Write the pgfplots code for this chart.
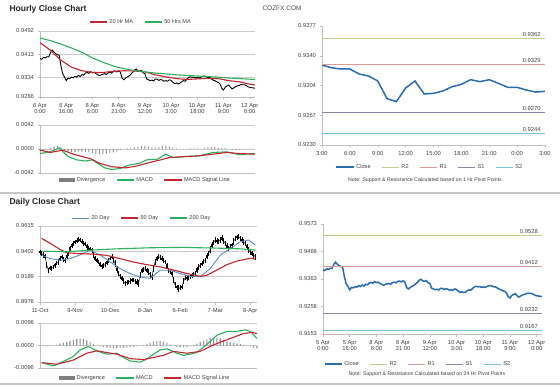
\documentclass[border=0pt]{standalone}
\usepackage{fontspec}
\setmainfont{Liberation Sans}
\usepackage{pgfplots}
\usepackage{pgfplotstable}
\pgfplotsset{compat=1.18}
\definecolor{magreen}{HTML}{2DB05E}
\definecolor{mared}{HTML}{C0282D}
\definecolor{mablue}{HTML}{5B8FC7}
\definecolor{divgray}{HTML}{7F7F7F}
\definecolor{closeblue}{HTML}{2A6CB0}
\definecolor{rtwo}{HTML}{C9C98E}
\definecolor{rone}{HTML}{DB9A98}
\definecolor{sone}{HTML}{8A86A8}
\definecolor{stwo}{HTML}{7CC4DC}

\pgfplotstableread{
h v
0 0.9398
1 0.9395
2 0.9402
3 0.9400
4 0.9404
5 0.9403
6 0.9418
7 0.9427
8 0.9420
9 0.9414
10 0.9411
11 0.9409
12 0.9372
13 0.9345
14 0.9335
15 0.9322
16 0.9331
17 0.9329
18 0.9334
19 0.9332
20 0.9337
21 0.9334
22 0.9340
23 0.9336
24 0.9343
25 0.9341
26 0.9348
27 0.9350
28 0.9347
29 0.9353
30 0.9349
31 0.9351
32 0.9346
33 0.9343
34 0.9339
35 0.9342
36 0.9344
37 0.9346
38 0.9343
39 0.9349
40 0.9351
41 0.9348
42 0.9354
43 0.9355
44 0.9352
45 0.9356
46 0.9351
47 0.9330
48 0.9325
49 0.9331
50 0.9335
51 0.9338
52 0.9344
53 0.9350
54 0.9358
55 0.9362
56 0.9356
57 0.9354
58 0.9357
59 0.9349
60 0.9346
61 0.9328
62 0.9325
63 0.9322
64 0.9324
65 0.9321
66 0.9327
67 0.9327
68 0.9323
69 0.9326
70 0.9324
71 0.9320
72 0.9322
73 0.9320
74 0.9325
75 0.9323
76 0.9316
77 0.9312
78 0.9314
79 0.9311
80 0.9313
81 0.9318
82 0.9322
83 0.9320
84 0.9327
85 0.9333
86 0.9335
87 0.9333
88 0.9334
89 0.9331
90 0.9333
91 0.9331
92 0.9334
93 0.9337
94 0.9338
95 0.9336
96 0.9333
97 0.9333
98 0.9328
99 0.9324
100 0.9322
101 0.9318
102 0.9316
103 0.9310
104 0.9296
105 0.9290
106 0.9300
107 0.9304
108 0.9307
109 0.9299
110 0.9294
111 0.9298
112 0.9302
113 0.9304
114 0.9306
115 0.9309
116 0.9308
117 0.9308
118 0.9305
119 0.9301
120 0.9299
121 0.9298
122 0.9297
123 0.9296
}\hourly

\pgfplotstableread{
d c e b
0 0.9395 0.0020 0.0008
1 0.9384 0.0018 0.0010
2 0.9372 0.0022 0.0009
3 0.9356 0.0020 0.0012
4 0.9290 0.0026 0.0015
5 0.9243 0.0022 0.0010
6 0.9262 0.0018 0.0008
7 0.9257 0.0020 0.0009
8 0.9268 0.0016 0.0007
9 0.9285 0.0020 0.0010
10 0.9301 0.0018 0.0009
11 0.9313 0.0022 0.0011
12 0.9340 0.0020 0.0010
13 0.9356 0.0018 0.0008
14 0.9335 0.0022 0.0011
15 0.9327 0.0020 0.0009
16 0.9360 0.0024 0.0013
17 0.9384 0.0020 0.0011
18 0.9425 0.0026 0.0014
19 0.9454 0.0022 0.0012
20 0.9470 0.0020 0.0009
21 0.9482 0.0018 0.0008
22 0.9490 0.0022 0.0010
23 0.9502 0.0020 0.0009
24 0.9495 0.0018 0.0008
25 0.9482 0.0022 0.0011
26 0.9470 0.0020 0.0009
27 0.9463 0.0018 0.0010
28 0.9440 0.0024 0.0012
29 0.9426 0.0020 0.0009
30 0.9420 0.0018 0.0008
31 0.9412 0.0020 0.0010
32 0.9370 0.0026 0.0016
33 0.9341 0.0022 0.0012
34 0.9325 0.0020 0.0009
35 0.9313 0.0018 0.0008
36 0.9290 0.0022 0.0011
37 0.9277 0.0020 0.0009
38 0.9282 0.0018 0.0008
39 0.9290 0.0020 0.0009
40 0.9310 0.0022 0.0011
41 0.9327 0.0020 0.0010
42 0.9345 0.0018 0.0009
43 0.9356 0.0022 0.0010
44 0.9330 0.0024 0.0013
45 0.9299 0.0026 0.0014
46 0.9250 0.0028 0.0016
47 0.9215 0.0022 0.0012
48 0.9190 0.0020 0.0010
49 0.9172 0.0022 0.0011
50 0.9150 0.0024 0.0012
51 0.9130 0.0020 0.0009
52 0.9140 0.0018 0.0008
53 0.9144 0.0020 0.0009
54 0.9152 0.0022 0.0010
55 0.9158 0.0018 0.0008
56 0.9160 0.0020 0.0009
57 0.9150 0.0022 0.0010
58 0.9142 0.0026 0.0012
59 0.9130 0.0030 0.0010
60 0.9200 0.0026 0.0016
61 0.9243 0.0022 0.0012
62 0.9250 0.0020 0.0009
63 0.9257 0.0018 0.0008
64 0.9240 0.0020 0.0010
65 0.9229 0.0022 0.0011
66 0.9205 0.0024 0.0012
67 0.9186 0.0022 0.0010
68 0.9260 0.0028 0.0017
69 0.9313 0.0024 0.0013
70 0.9340 0.0022 0.0011
71 0.9356 0.0020 0.0009
72 0.9350 0.0018 0.0008
73 0.9341 0.0020 0.0009
74 0.9325 0.0022 0.0010
75 0.9313 0.0020 0.0009
76 0.9280 0.0024 0.0014
77 0.9243 0.0022 0.0012
78 0.9230 0.0020 0.0009
79 0.9215 0.0022 0.0010
80 0.9160 0.0028 0.0016
81 0.9116 0.0024 0.0012
82 0.9100 0.0022 0.0010
83 0.9088 0.0030 0.0011
84 0.9095 0.0022 0.0009
85 0.9102 0.0020 0.0010
86 0.9150 0.0026 0.0015
87 0.9181 0.0022 0.0011
88 0.9175 0.0020 0.0009
89 0.9181 0.0018 0.0008
90 0.9192 0.0020 0.0009
91 0.9200 0.0022 0.0010
92 0.9210 0.0020 0.0009
93 0.9215 0.0018 0.0008
94 0.9245 0.0024 0.0013
95 0.9271 0.0022 0.0011
96 0.9285 0.0020 0.0009
97 0.9299 0.0018 0.0008
98 0.9315 0.0022 0.0010
99 0.9327 0.0020 0.0009
100 0.9360 0.0026 0.0014
101 0.9384 0.0022 0.0012
102 0.9420 0.0028 0.0016
103 0.9454 0.0024 0.0013
104 0.9478 0.0022 0.0011
105 0.9497 0.0026 0.0012
106 0.9488 0.0022 0.0010
107 0.9482 0.0020 0.0009
108 0.9500 0.0024 0.0012
109 0.9511 0.0026 0.0011
110 0.9490 0.0024 0.0012
111 0.9468 0.0022 0.0011
112 0.9445 0.0026 0.0013
113 0.9426 0.0024 0.0010
114 0.9440 0.0020 0.0009
115 0.9454 0.0022 0.0011
116 0.9485 0.0026 0.0014
117 0.9511 0.0022 0.0012
118 0.9520 0.0020 0.0009
119 0.9525 0.0022 0.0010
120 0.9510 0.0020 0.0009
121 0.9497 0.0022 0.0011
122 0.9480 0.0024 0.0012
123 0.9468 0.0022 0.0010
124 0.9440 0.0026 0.0013
125 0.9412 0.0024 0.0012
126 0.9395 0.0022 0.0010
127 0.9384 0.0020 0.0009
128 0.9370 0.0022 0.0010
129 0.9356 0.0024 0.0011
}\daily

\tikzset{pivlabel/.style={pos=0.94, above, font=\fontsize{5.8}{6.6}\selectfont, text=black!75, inner sep=1.5pt}}

\pgfplotsset{
  excel/.style={
    scale only axis,
    axis x line*=bottom, axis y line*=left,
    axis line style={gray!50, line width=0.6pt},
    every tick/.style={gray!50, line width=0.5pt},
    major tick length=2.5pt, tick align=outside,
    scaled y ticks=false, scaled x ticks=false,
    ticklabel style={font=\fontsize{5.8}{6.6}\selectfont, text=black!75},
    x tick label style={align=center},
    grid style={gray!40, line width=0.6pt},
    legend style={draw=none, fill=none, font=\fontsize{5.6}{6.5}\selectfont, text=black!75,
      legend columns=-1, /tikz/every even column/.append style={column sep=9pt},
      anchor=center, inner sep=0pt},
    legend cell align=left,
    clip=false,
  },
  divstyle/.style={ybar, bar width=1.1pt, bar shift=0pt, fill=divgray!85, draw=none,
    legend image code/.code={\fill[divgray] (0pt,-2pt) rectangle (16pt,2pt);}},
}

\begin{document}
\begin{tikzpicture}
\path[use as bounding box] (0pt,0pt) rectangle (560pt,386pt);
\fill[white] (0pt,0pt) rectangle (560pt,386pt);

% titles and separators
\node[anchor=base west, font=\bfseries\fontsize{8.5}{10}\selectfont, text=black!85] at (6pt,374pt) {Hourly Close Chart};
\node[anchor=base, font=\fontsize{6.5}{7.5}\selectfont, text=black!70] at (282pt,375pt) {COZFX.COM};
\draw[gray!45, line width=1.5pt] (0pt,193pt) -- (560pt,193pt);
\node[anchor=base west, font=\bfseries\fontsize{8.5}{10}\selectfont, text=black!85] at (6pt,181pt) {Daily Close Chart};
\draw[gray!45, line width=1.5pt] (0pt,2pt) -- (560pt,2pt);
\node[font=\fontsize{5.2}{6}\selectfont, text=black!75] at (425pt,206pt) {Note: Support \& Resistance Calculated based on 1 Hr Pivot Points};
\node[font=\fontsize{5.2}{6}\selectfont, text=black!75] at (427pt,12pt) {Note: Support \& Resistance Calculated based on 24 Hr Pivot Points};

% ---------------- Hourly price
\begin{axis}[excel, at={(40pt,289pt)}, anchor=south west, width=215pt, height=66pt,
  xmin=0, xmax=123, ymin=0.9266, ymax=0.9492,
  ytick={0.9266,0.9334,0.9413,0.9492}, yticklabels={0.9266,0.9334,0.9413,0.9492},
  ymajorgrids,
  xtick={0,15,...,120},
  xticklabels={{6 Apr\\0:00},{6 Apr\\16:00},{8 Apr\\6:00},{8 Apr\\21:00},{9 Apr\\12:00},{10 Apr\\3:00},{10 Apr\\18:00},{11 Apr\\9:00},{12 Apr\\0:00}},
  legend style={at={(0.47,1.136)}}]
\addplot[black, line width=0.9pt, forget plot] table[x=h,y=v] {\hourly};
\addplot[mared, line width=1.1pt] coordinates {(0,0.9452) (6,0.9426) (12,0.9392) (18,0.9368) (24,0.9356) (30,0.9350) (36,0.9350) (42,0.9354) (48,0.9356) (54,0.9355) (60,0.9352) (66,0.9342) (72,0.9335) (78,0.9329) (84,0.9326) (90,0.9328) (96,0.9330) (102,0.9329) (108,0.9322) (114,0.9318) (120,0.9310) (123,0.9307)};
\addplot[magreen, line width=1.1pt] coordinates {(0,0.9468) (6,0.9459) (12,0.9447) (18,0.9434) (24,0.9419) (30,0.9400) (36,0.9385) (42,0.9372) (48,0.9363) (54,0.9357) (60,0.9352) (66,0.9348) (72,0.9345) (78,0.9342) (84,0.9340) (90,0.9338) (96,0.9336) (102,0.9334) (108,0.9331) (114,0.9329) (120,0.9327) (123,0.9326)};
\legend{20 Hr MA, 50 Hrs MA}
\end{axis}

% ---------------- Hourly MACD
\begin{axis}[excel, at={(40pt,213pt)}, anchor=south west, width=215pt, height=48pt,
  xmin=0, xmax=123, ymin=-0.0042, ymax=0.0042,
  ytick={-0.0042,0,0.0042}, yticklabels={-0.0042,0.0000,0.0042},
  ymajorgrids, xtick=\empty,
  legend style={at={(0.49,-0.146)}}]
\addplot[divstyle] table[x=h, y=v] {
h v
0 -0.0003
2 -0.0003
4 0.0000
6 0.0002
8 0.0004
10 0.0005
12 0.0003
14 -0.0002
16 -0.0004
18 -0.0005
20 -0.0005
22 -0.0004
24 -0.0004
26 -0.0005
28 -0.0006
30 -0.0007
32 -0.0008
34 -0.0009
36 -0.0009
38 -0.0008
40 -0.0007
42 -0.0006
44 -0.0004
46 -0.0002
48 0.0000
50 0.0001
52 0.0002
54 0.0003
56 0.0004
58 0.0005
60 0.0005
62 0.0004
64 0.0003
66 0.0002
68 0.0003
70 0.0005
72 0.0006
74 0.0004
76 0.0002
78 0.0001
80 0.0000
82 0.0000
84 0.0000
86 0.0001
88 0.0001
90 0.0001
92 0.0000
94 0.0002
96 0.0003
98 0.0003
100 0.0003
102 0.0002
104 0.0001
106 0.0001
108 0.0000
110 -0.0001
112 -0.0001
114 -0.0001
116 0.0000
118 0.0000
120 0.0000
122 0.0000
};
\addplot[magreen, line width=1.1pt] table[x=h, y=v] {
h v
0 -0.0008
6 -0.0005
11 0.0002
16 -0.0013
21 -0.0019
26 -0.0021
30 -0.0019
33 -0.0025
37 -0.0033
41 -0.0036
46 -0.0034
51 -0.0028
57 -0.0025
61 -0.0019
67 -0.0018
72 -0.0009
76 -0.0015
84 -0.0013
91 -0.0012
99 -0.0006
107 -0.0005
114 -0.0010
123 -0.0008
};
\addplot[mared, line width=1.1pt] table[x=h, y=v] {
h v
0 -0.0002
6 -0.0006
13 -0.0002
20 -0.0010
29 -0.0017
34 -0.0025
41 -0.0031
49 -0.0033
55 -0.0030
61 -0.0025
69 -0.0019
74 -0.0015
84 -0.0013
91 -0.0012
99 -0.0009
107 -0.0006
114 -0.0008
123 -0.0009
};
\legend{Divergence, MACD, MACD Signal Line}
\end{axis}

% ---------------- Hourly pivot
\begin{axis}[excel, at={(322pt,241pt)}, anchor=south west, width=223pt, height=119pt,
  xmin=0, xmax=24, ymin=0.9230, ymax=0.9377,
  ytick={0.9230,0.9267,0.9304,0.9340,0.9377}, yticklabels={0.9230,0.9267,0.9304,0.9340,0.9377},
  xtick={0,3,...,24}, xticklabels={3:00,6:00,9:00,12:00,15:00,18:00,21:00,0:00,3:00},
  legend style={at={(0.484,-0.185)}}]
\addplot[closeblue, line width=1.5pt] coordinates {(0,0.93288) (1,0.93255) (2,0.93239) (3,0.93239) (4,0.93177) (5,0.93152) (6,0.93091) (7,0.92872) (8,0.92835) (9,0.93004) (10,0.93091) (11,0.92930) (12,0.92938) (13,0.92967) (14,0.93020) (15,0.93049) (16,0.93107) (17,0.93082) (18,0.93107) (19,0.93061) (20,0.93012) (21,0.93012) (22,0.92979) (23,0.92954) (24,0.92963)};
\addplot[rtwo, line width=0.8pt] coordinates {(0,0.9362) (24,0.9362)} node[pivlabel] {0.9362};
\addplot[rone, line width=0.8pt] coordinates {(0,0.9329) (24,0.9329)} node[pivlabel] {0.9329};
\addplot[sone, line width=0.8pt] coordinates {(0,0.9270) (24,0.9270)} node[pivlabel] {0.9270};
\addplot[stwo, line width=0.8pt] coordinates {(0,0.9244) (24,0.9244)} node[pivlabel] {0.9244};
\legend{Close, R2, R1, S1, S2}
\end{axis}

% ---------------- Daily price
\begin{axis}[excel, at={(40pt,84pt)}, anchor=south west, width=217pt, height=76pt,
  xmin=0, xmax=130, ymin=0.8976, ymax=0.9615,
  ytick={0.8976,0.9189,0.9402,0.9615}, yticklabels={0.8976,0.9189,0.9402,0.9615},
  ymajorgrids,
  xtick={0,21,...,126}, xticklabels={11-Oct,9-Nov,10-Dec,8-Jan,6-Feb,7-Mar,8-Apr},
  legend style={at={(0.47,1.105)}}]
\addplot[black, line width=0.4pt, forget plot,
  error bars/.cd, y dir=both, y explicit, error mark=none, error bar style={black, line width=0.4pt}]
  table[x=d, y=c, y error=e] {\daily};
\addplot[draw=none, forget plot,
  error bars/.cd, y dir=both, y explicit, error mark=none, error bar style={black, line width=1.2pt}]
  table[x=d, y=c, y error=b] {\daily};
\addplot[mablue, line width=0.9pt] coordinates {(1,0.9370) (6,0.9341) (12,0.9327) (18,0.9341) (24,0.9372) (30,0.9412) (36,0.9372) (42,0.9313) (48,0.9257) (54,0.9215) (60,0.9186) (66,0.9175) (72,0.9243) (78,0.9243) (84,0.9215) (90,0.9192) (96,0.9192) (102,0.9257) (108,0.9370) (114,0.9426) (120,0.9482) (125,0.9497) (129,0.9454)};
\addplot[mared, line width=1.1pt] coordinates {(1,0.9511) (6,0.9470) (12,0.9418) (16,0.9390) (24,0.9382) (32,0.9378) (40,0.9368) (48,0.9340) (56,0.9312) (64,0.9290) (72,0.9271) (80,0.9245) (88,0.9215) (96,0.9192) (100,0.9200) (106,0.9245) (112,0.9290) (118,0.9320) (124,0.9338) (127,0.9345) (129,0.9333)};
\addplot[magreen, line width=1.1pt] coordinates {(1,0.9404) (16,0.9398) (30,0.9412) (46,0.9423) (66,0.9432) (86,0.9435) (106,0.9429) (120,0.9423) (129,0.9412)};
\legend{20 Day, 50 Day, 200 Day}
\end{axis}

% ---------------- Daily MACD
\begin{axis}[excel, at={(40pt,18pt)}, anchor=south west, width=217pt, height=45pt,
  xmin=0, xmax=130, ymin=-0.0096, ymax=0.0096,
  ytick={-0.0096,0,0.0096}, yticklabels={-0.0096,0.0000,0.0096},
  ymajorgrids, xtick=\empty,
  legend style={at={(0.484,-0.222)}}]
\addplot[divstyle] table[x=d, y=v] {
d v
0 -0.0002
2 -0.0003
4 -0.0004
6 -0.0003
8 -0.0001
10 0.0003
12 0.0008
14 0.0012
16 0.0016
18 0.0020
20 0.0024
22 0.0027
24 0.0030
26 0.0028
28 0.0022
30 0.0015
32 0.0006
34 0.0000
36 -0.0004
38 -0.0007
40 -0.0009
42 -0.0011
44 -0.0012
46 -0.0011
48 -0.0010
50 -0.0010
52 -0.0009
54 -0.0008
56 -0.0006
58 -0.0004
60 -0.0002
62 0.0002
64 0.0006
66 0.0012
68 0.0017
70 0.0020
72 0.0021
74 0.0018
76 0.0012
78 0.0004
80 -0.0002
82 -0.0006
84 -0.0008
86 -0.0008
88 -0.0006
90 -0.0003
92 0.0002
94 0.0008
96 0.0014
98 0.0020
100 0.0026
102 0.0030
104 0.0033
106 0.0034
108 0.0030
110 0.0024
112 0.0018
114 0.0013
116 0.0010
118 0.0008
120 0.0006
122 0.0003
124 0.0000
126 -0.0004
128 -0.0009
130 -0.0012
};
\addplot[magreen, line width=1.1pt] table[x=d, y=v] {
d v
1 -0.0073
8 -0.0087
14 -0.0068
20 -0.0047
24 -0.0019
29 -0.0004
34 -0.0023
40 -0.0037
46 -0.0033
50 -0.0051
54 -0.0066
60 -0.0071
64 -0.0058
68 -0.0037
72 -0.0019
76 -0.0014
82 -0.0033
86 -0.0042
90 -0.0037
94 -0.0030
100 0.0005
106 0.0044
112 0.0060
118 0.0060
123 0.0067
126 0.0060
130 0.0030
};
\addplot[mared, line width=1.1pt] table[x=d, y=v] {
d v
1 -0.0073
10 -0.0080
20 -0.0062
28 -0.0033
34 -0.0023
46 -0.0037
54 -0.0056
62 -0.0060
74 -0.0042
80 -0.0025
88 -0.0033
96 -0.0025
104 0.0003
114 0.0030
122 0.0051
127 0.0056
130 0.0051
};
\legend{Divergence, MACD, MACD Signal Line}
\end{axis}

% ---------------- Daily pivot (24 Hr)
\begin{axis}[excel, at={(323pt,52pt)}, anchor=south west, width=219pt, height=110pt,
  xmin=0, xmax=123, ymin=0.9153, ymax=0.9573,
  ytick={0.9153,0.9258,0.9363,0.9468,0.9573}, yticklabels={0.9153,0.9258,0.9363,0.9468,0.9573},
  xtick={0,15,...,120},
  xticklabels={{5 Apr\\0:00},{5 Apr\\16:00},{8 Apr\\6:00},{8 Apr\\21:00},{9 Apr\\12:00},{10 Apr\\3:00},{10 Apr\\18:00},{11 Apr\\9:00},{12 Apr\\0:00}},
  legend style={at={(0.434,-0.273)}}]
\addplot[closeblue, line width=1.5pt] table[x=h,y=v] {\hourly};
\addplot[rtwo, line width=0.8pt] coordinates {(0,0.9528) (123,0.9528)} node[pivlabel] {0.9528};
\addplot[rone, line width=0.8pt] coordinates {(0,0.9412) (123,0.9412)} node[pivlabel] {0.9412};
\addplot[sone, line width=0.8pt] coordinates {(0,0.9232) (123,0.9232)} node[pivlabel] {0.9232};
\addplot[stwo, line width=0.8pt] coordinates {(0,0.9167) (123,0.9167)} node[pivlabel] {0.9167};
\legend{Close, R2, R1, S1, S2}
\end{axis}
\end{tikzpicture}
\end{document}
